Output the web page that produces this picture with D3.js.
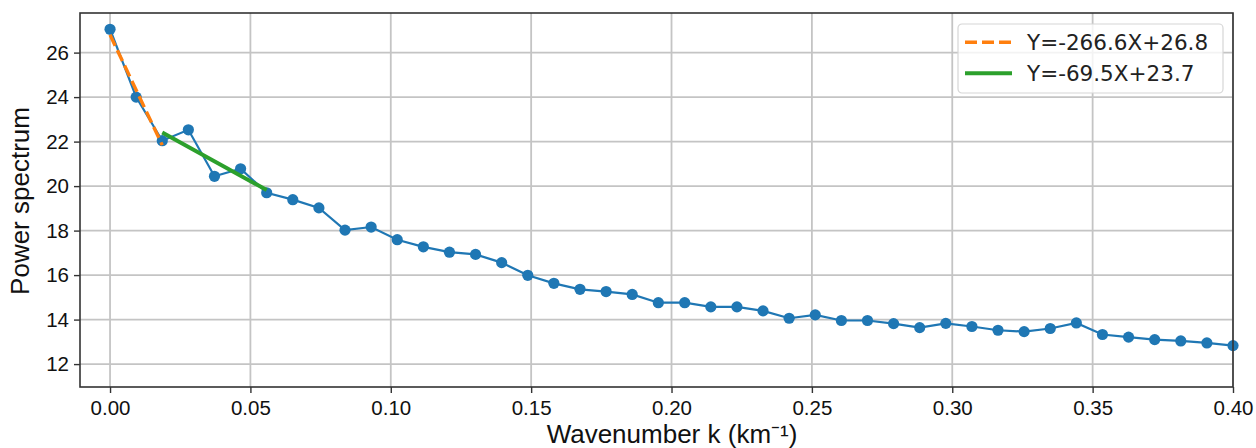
<!DOCTYPE html>
<html>
<head>
<meta charset="utf-8">
<script src="https://cdn.jsdelivr.net/npm/d3@7"></script>
<style>
  html, body { margin: 0; padding: 0; background: #fff; }
  #chart { width: 1256px; height: 448px; }
</style>
</head>
<body>
<div id="chart"></div>
<script>
// wavenumber k (km^-1), one per point
const kValues = [
  0.0000, 0.0093, 0.0186, 0.0279, 0.0372, 0.0465, 0.0558, 0.0651, 0.0744, 0.0837,
  0.0930, 0.1023, 0.1116, 0.1209, 0.1302, 0.1395, 0.1488, 0.1581, 0.1674, 0.1767,
  0.1860, 0.1953, 0.2047, 0.2140, 0.2233, 0.2326, 0.2419, 0.2512, 0.2605, 0.2698,
  0.2791, 0.2884, 0.2977, 0.3070, 0.3163, 0.3256, 0.3349, 0.3442, 0.3535, 0.3628,
  0.3721, 0.3814, 0.3907, 0.4000
];
const powerValues = [
  27.05, 24.00, 22.04, 22.53, 20.44, 20.78, 19.70, 19.39, 19.02, 18.02,
  18.16, 17.59, 17.27, 17.03, 16.93, 16.56, 15.99, 15.63, 15.36, 15.26,
  15.13, 14.76, 14.76, 14.57, 14.57, 14.39, 14.06, 14.21, 13.96, 13.96,
  13.82, 13.64, 13.83, 13.69, 13.52, 13.46, 13.60, 13.85, 13.33, 13.21,
  13.10, 13.04, 12.95, 12.83
];

// the two linear fits shown in the legend
const fitLabels = ["Y=-266.6X+26.8", "Y=-69.5X+23.7"];
const fitSlopes = [-266.6, -69.5];
const fitIntercepts = [26.8, 23.7];
const fitRanges = [[0.0000, 0.0186], [0.0186, 0.0558]];

const xTicks = [0.00, 0.05, 0.10, 0.15, 0.20, 0.25, 0.30, 0.35, 0.40];
const yTicks = [12, 14, 16, 18, 20, 22, 24, 26];

const width = 1256;
const height = 448;
const margin = { top: 13, right: 23, bottom: 61, left: 80 };

const blue = "#1f77b4", orange = "#ff7f0e", green = "#2ca02c";

const svg = d3
  .select("#chart")
  .append("svg")
  .attr("width", width)
  .attr("height", height)
  .style("font-family", "'Liberation Sans', Arial, sans-serif");

const x = d3
  .scaleLinear()
  .domain([-0.0107, 0.4])
  .range([margin.left, width - margin.right]);

const y = d3
  .scaleLinear()
  .domain([10.97, 27.78])
  .range([height - margin.bottom, margin.top]);

// grid
const grid = svg.append("g").attr("stroke", "#c4c4c4").attr("stroke-width", 1.8);
grid
  .selectAll("line.vx")
  .data(xTicks)
  .join("line")
  .attr("x1", (d) => x(d))
  .attr("x2", (d) => x(d))
  .attr("y1", margin.top)
  .attr("y2", height - margin.bottom);
grid
  .selectAll("line.hy")
  .data(yTicks)
  .join("line")
  .attr("x1", margin.left)
  .attr("x2", width - margin.right)
  .attr("y1", (d) => y(d))
  .attr("y2", (d) => y(d));

// axes
const xAxis = svg
  .append("g")
  .attr("transform", `translate(0,${height - margin.bottom})`)
  .call(
    d3.axisBottom(x).tickValues(xTicks).tickFormat(d3.format(".2f")).tickSize(6).tickSizeOuter(0)
  );
const yAxis = svg
  .append("g")
  .attr("transform", `translate(${margin.left},0)`)
  .call(d3.axisLeft(y).tickValues(yTicks).tickSize(6).tickSizeOuter(0));

[xAxis, yAxis].forEach((a) => {
  a.select(".domain").remove();
  a.selectAll(".tick line").attr("stroke", "#333").attr("stroke-width", 1.4);
  a.selectAll(".tick text")
    .attr("fill", "#111")
    .style("font-size", "20.5px")
    .style("font-family", "'Liberation Sans', Arial, sans-serif");
});
xAxis.selectAll(".tick text").attr("dy", "0.95em");
yAxis.selectAll(".tick text").attr("dx", "-0.1em");

// data line + markers
const line = d3
  .line()
  .x((d, i) => x(kValues[i]))
  .y((d) => y(d));

svg
  .append("path")
  .datum(powerValues)
  .attr("fill", "none")
  .attr("stroke", blue)
  .attr("stroke-width", 2.2)
  .attr("d", line);

svg
  .append("g")
  .selectAll("circle")
  .data(powerValues)
  .join("circle")
  .attr("cx", (d, i) => x(kValues[i]))
  .attr("cy", (d) => y(d))
  .attr("r", 5.6)
  .attr("fill", blue);

// fitted lines
const fitStyles = [
  { color: orange, width: 3.4, dash: "12,5" },
  { color: green, width: 4, dash: null },
];
fitLabels.forEach((lab, i) => {
  const [k0, k1] = fitRanges[i];
  svg
    .append("line")
    .attr("x1", x(k0))
    .attr("y1", y(fitSlopes[i] * k0 + fitIntercepts[i]))
    .attr("x2", x(k1))
    .attr("y2", y(fitSlopes[i] * k1 + fitIntercepts[i]))
    .attr("stroke", fitStyles[i].color)
    .attr("stroke-width", fitStyles[i].width)
    .attr("stroke-dasharray", fitStyles[i].dash);
});

// frame
svg
  .append("rect")
  .attr("x", margin.left)
  .attr("y", margin.top)
  .attr("width", width - margin.left - margin.right)
  .attr("height", height - margin.top - margin.bottom)
  .attr("fill", "none")
  .attr("stroke", "#333")
  .attr("stroke-width", 1.6);

// axis titles
svg
  .append("text")
  .attr("x", 672)
  .attr("y", 443)
  .attr("text-anchor", "middle")
  .style("font-size", "26px")
  .attr("fill", "#111")
  .text("Wavenumber k (km⁻¹)");

svg
  .append("text")
  .attr("transform", "translate(29,201) rotate(-90)")
  .attr("text-anchor", "middle")
  .style("font-size", "26px")
  .attr("fill", "#111")
  .text("Power spectrum");

// legend
const legend = svg.append("g").attr("transform", "translate(958,24)");
legend
  .append("rect")
  .attr("width", 265)
  .attr("height", 69)
  .attr("rx", 4)
  .attr("fill", "#fff")
  .attr("fill-opacity", 0.8)
  .attr("stroke", "#d6d6d6")
  .attr("stroke-width", 1.2);

const item = legend
  .selectAll("g.item")
  .data(fitLabels)
  .join("g")
  .attr("transform", (d, i) => `translate(0,${18.3 + i * 31})`);
item
  .append("line")
  .attr("x1", 7)
  .attr("x2", 54)
  .attr("stroke", (d, i) => fitStyles[i].color)
  .attr("stroke-width", (d, i) => fitStyles[i].width)
  .attr("stroke-dasharray", (d, i) => fitStyles[i].dash);
item
  .append("text")
  .attr("x", 69)
  .attr("dy", "0.36em")
  .style("font-family", "'DejaVu Sans', sans-serif")
  .style("font-size", "21.5px")
  .attr("fill", "#222")
  .text((d) => d);
</script>
</body>
</html>
